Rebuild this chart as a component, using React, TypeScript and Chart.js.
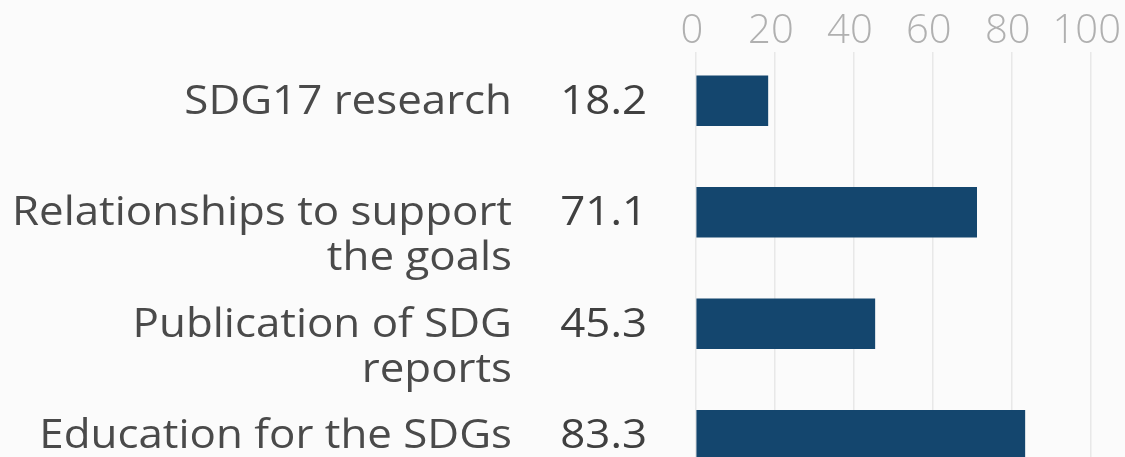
import React, { useEffect, useRef } from "react";
import { Chart, registerables } from "chart.js";

Chart.register(...registerables);

const categories: string[][] = [
  ["SDG17 research"],
  ["Relationships to support", "the goals"],
  ["Publication of SDG", "reports"],
  ["Education for the SDGs"],
];
const values: number[] = [18.2, 71.1, 45.3, 83.3];
const valueLabels: string[] = ["18.2", "71.1", "45.3", "83.3"];
const xMin = 0;
const xMax = 100;
const xStep = 20;

const FONT = "'Open Sans', 'Noto Sans', sans-serif";

function drawText(ctx: any, text: string, x: number, y: number, sx: number) {
  ctx.save();
  ctx.translate(x, y);
  ctx.scale(sx, 1);
  ctx.fillText(text, 0, 0);
  ctx.restore();
}

const labelPlugin = {
  id: "sideLabels",
  beforeDraw(chart: any) {
    const ctx = chart.ctx;
    ctx.save();
    ctx.fillStyle = "#fbfbfb";
    ctx.fillRect(0, 0, chart.width, chart.height);
    ctx.restore();
  },
  afterDatasetsDraw(chart: any) {
    const ctx = chart.ctx;
    const yScale = chart.scales.y;
    const left = chart.chartArea.left;
    ctx.save();
    ctx.font = `400 41px ${FONT}`;
    ctx.textBaseline = "alphabetic";
    ctx.textAlign = "right";
    categories.forEach((lines, i) => {
      const y = yScale.getPixelForValue(i) + 13;
      ctx.fillStyle = "#4a4a4a";
      lines.forEach((line, k) => {
        drawText(ctx, line, left - 184, y + k * 45, 1.07);
      });
      ctx.fillStyle = "#404040";
      drawText(ctx, valueLabels[i], left - 49, y, 1.07);
    });
    ctx.restore();
  },
};

export default function App() {
  const ref = useRef<HTMLCanvasElement | null>(null);
  useEffect(() => {
    document.body.style.margin = "0";
    document.body.style.background = "#fbfbfb";
    const canvas = ref.current!;
    const chart = new Chart(canvas, {
      type: "bar",
      data: {
        datasets: [
          {
            data: values.map((v, i) => ({ x: v, y: i })),
            backgroundColor: "#14466e",
            borderWidth: 0,
            barThickness: 50,
          },
        ],
      },
      options: {
        indexAxis: "y",
        responsive: false,
        animation: false,
        devicePixelRatio: 1,
        layout: { padding: { left: 696, right: 33, top: 0, bottom: 0 } },
        plugins: { legend: { display: false }, tooltip: { enabled: false } },
        scales: {
          x: {
            position: "top",
            min: xMin,
            max: xMax,
            ticks: {
              stepSize: xStep,
              color: "#b0b0b0",
              padding: 0,
              labelOffset: -4,
              font: { family: FONT, size: 40, weight: "300", lineHeight: 1 },
            },
            grid: { color: "#e8e8e8", lineWidth: 1.5, drawTicks: false },
            border: { display: false },
            afterFit: (s: any) => {
              s.height = 52;
            },
          },
          y: {
            type: "linear",
            display: false,
            reverse: true,
            offset: false,
            grid: { offset: false },
            min: -0.437,
            max: 3.195,
          },
        },
      },
      plugins: [labelPlugin],
    } as any);
    return () => chart.destroy();
  }, []);
  return (
    <canvas
      ref={ref}
      width={1125}
      height={457}
      style={{ display: "block", width: 1125, height: 457 }}
    />
  );
}
